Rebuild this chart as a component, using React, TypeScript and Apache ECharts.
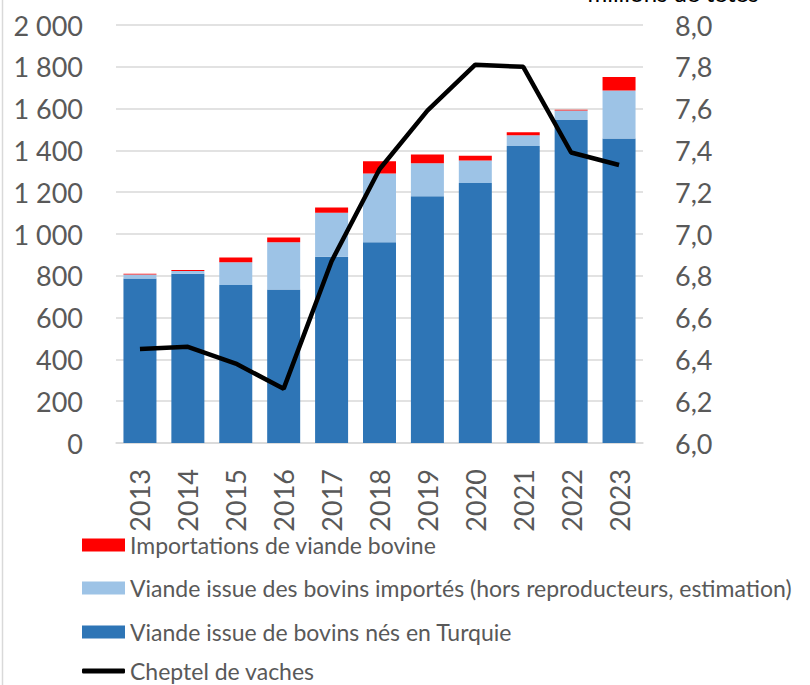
import React, { useEffect, useRef } from "react";
import * as echarts from "echarts";

const years = ["2013", "2014", "2015", "2016", "2017", "2018", "2019", "2020", "2021", "2022", "2023"];
const bornInTurkey = [787, 810, 756, 734, 891, 961, 1181, 1244, 1421, 1546, 1457];
const importedCattle = [19, 13, 109, 227, 211, 329, 157, 108, 51, 45, 230];
const beefImports = [4, 5, 22, 22, 25, 58, 42, 23, 15, 4, 64];
const cowHerd = [6.45, 6.46, 6.38, 6.26, 6.87, 7.31, 7.59, 7.81, 7.8, 7.39, 7.33];

const FONT = "Lato";
const GREY = "#595959";

export default function App() {
  const ref = useRef<HTMLDivElement>(null);
  useEffect(() => {
    const chart = echarts.init(ref.current!, null, { renderer: "svg" });
    const legendBase = {
      orient: "vertical",
      left: 82,
      padding: 0,
      itemWidth: 43,
      itemHeight: 13,
      itemGap: 0,
      textStyle: { fontFamily: FONT, fontSize: 23, color: GREY, lineHeight: 24 },
      selectedMode: false,
    };
    chart.setOption({
      animation: false,
      textStyle: { fontFamily: FONT },
      grid: { left: 116, right: 167, top: 25, bottom: 242, containLabel: false },
      legend: [
        { ...legendBase, top: 533, data: [{ name: "Importations de viande bovine", icon: "rect" }] },
        { ...legendBase, top: 576, data: [{ name: "Viande issue des bovins importés (hors reproducteurs, estimation)", icon: "rect" }] },
        { ...legendBase, top: 620, data: [{ name: "Viande issue de bovins nés en Turquie", icon: "rect" }] },
        { ...legendBase, top: 659, itemHeight: 5, data: [{ name: "Cheptel de vaches", icon: "roundRect" }] },
      ],
      xAxis: {
        type: "category",
        data: years,
        axisTick: { show: false },
        axisLine: { lineStyle: { color: "#d9d9d9", width: 1.5 } },
        axisLabel: { rotate: 90, margin: 26, fontFamily: FONT, fontSize: 27, color: GREY },
      },
      yAxis: [
        {
          type: "value",
          min: 0,
          max: 2000,
          interval: 200,
          axisLine: { show: false },
          axisTick: { show: false },
          splitLine: { lineStyle: { color: "#d9d9d9", width: 1.5 } },
          axisLabel: {
            margin: 33,
            fontFamily: FONT,
            fontSize: 27,
            color: GREY,
            formatter: (v: number) => String(Math.round(v)).replace(/\B(?=(\d{3})+(?!\d))/g, " "),
          },
        },
        {
          type: "value",
          min: 6,
          max: 8,
          interval: 0.2,
          axisLine: { show: false },
          axisTick: { show: false },
          splitLine: { show: false },
          axisLabel: {
            margin: 32,
            fontFamily: FONT,
            fontSize: 27,
            color: GREY,
            formatter: (v: number) => v.toFixed(1).replace(".", ","),
          },
        },
      ],
      series: [
        {
          name: "Viande issue de bovins nés en Turquie",
          type: "bar",
          stack: "a",
          barWidth: 33,
          data: bornInTurkey,
          itemStyle: { color: "#2E75B6" },
        },
        {
          name: "Viande issue des bovins importés (hors reproducteurs, estimation)",
          type: "bar",
          stack: "a",
          barWidth: 33,
          data: importedCattle,
          itemStyle: { color: "#9DC3E6" },
        },
        {
          name: "Importations de viande bovine",
          type: "bar",
          stack: "a",
          barWidth: 33,
          data: beefImports,
          itemStyle: { color: "#FF0000" },
        },
        {
          name: "Cheptel de vaches",
          type: "line",
          yAxisIndex: 1,
          data: cowHerd,
          symbol: "none",
          lineStyle: { color: "#000000", width: 4.5 },
          itemStyle: { color: "#000000" },
        },
      ],
      graphic: [
        {
          type: "line",
          shape: { x1: 2.5, y1: 0, x2: 2.5, y2: 685 },
          style: { stroke: "#d9d9d9", lineWidth: 1.5 },
        },
        {
          type: "text",
          x: 673,
          y: 4,
          style: {
            text: "millions de têtes",
            fontFamily: FONT,
            fontSize: 24,
            fill: "#000000",
            textAlign: "center",
            textVerticalAlign: "bottom",
          },
        },
      ],
    });
    return () => chart.dispose();
  }, []);
  return <div ref={ref} style={{ width: 810, height: 685, position: "absolute", left: 0, top: 0 }} />;
}
